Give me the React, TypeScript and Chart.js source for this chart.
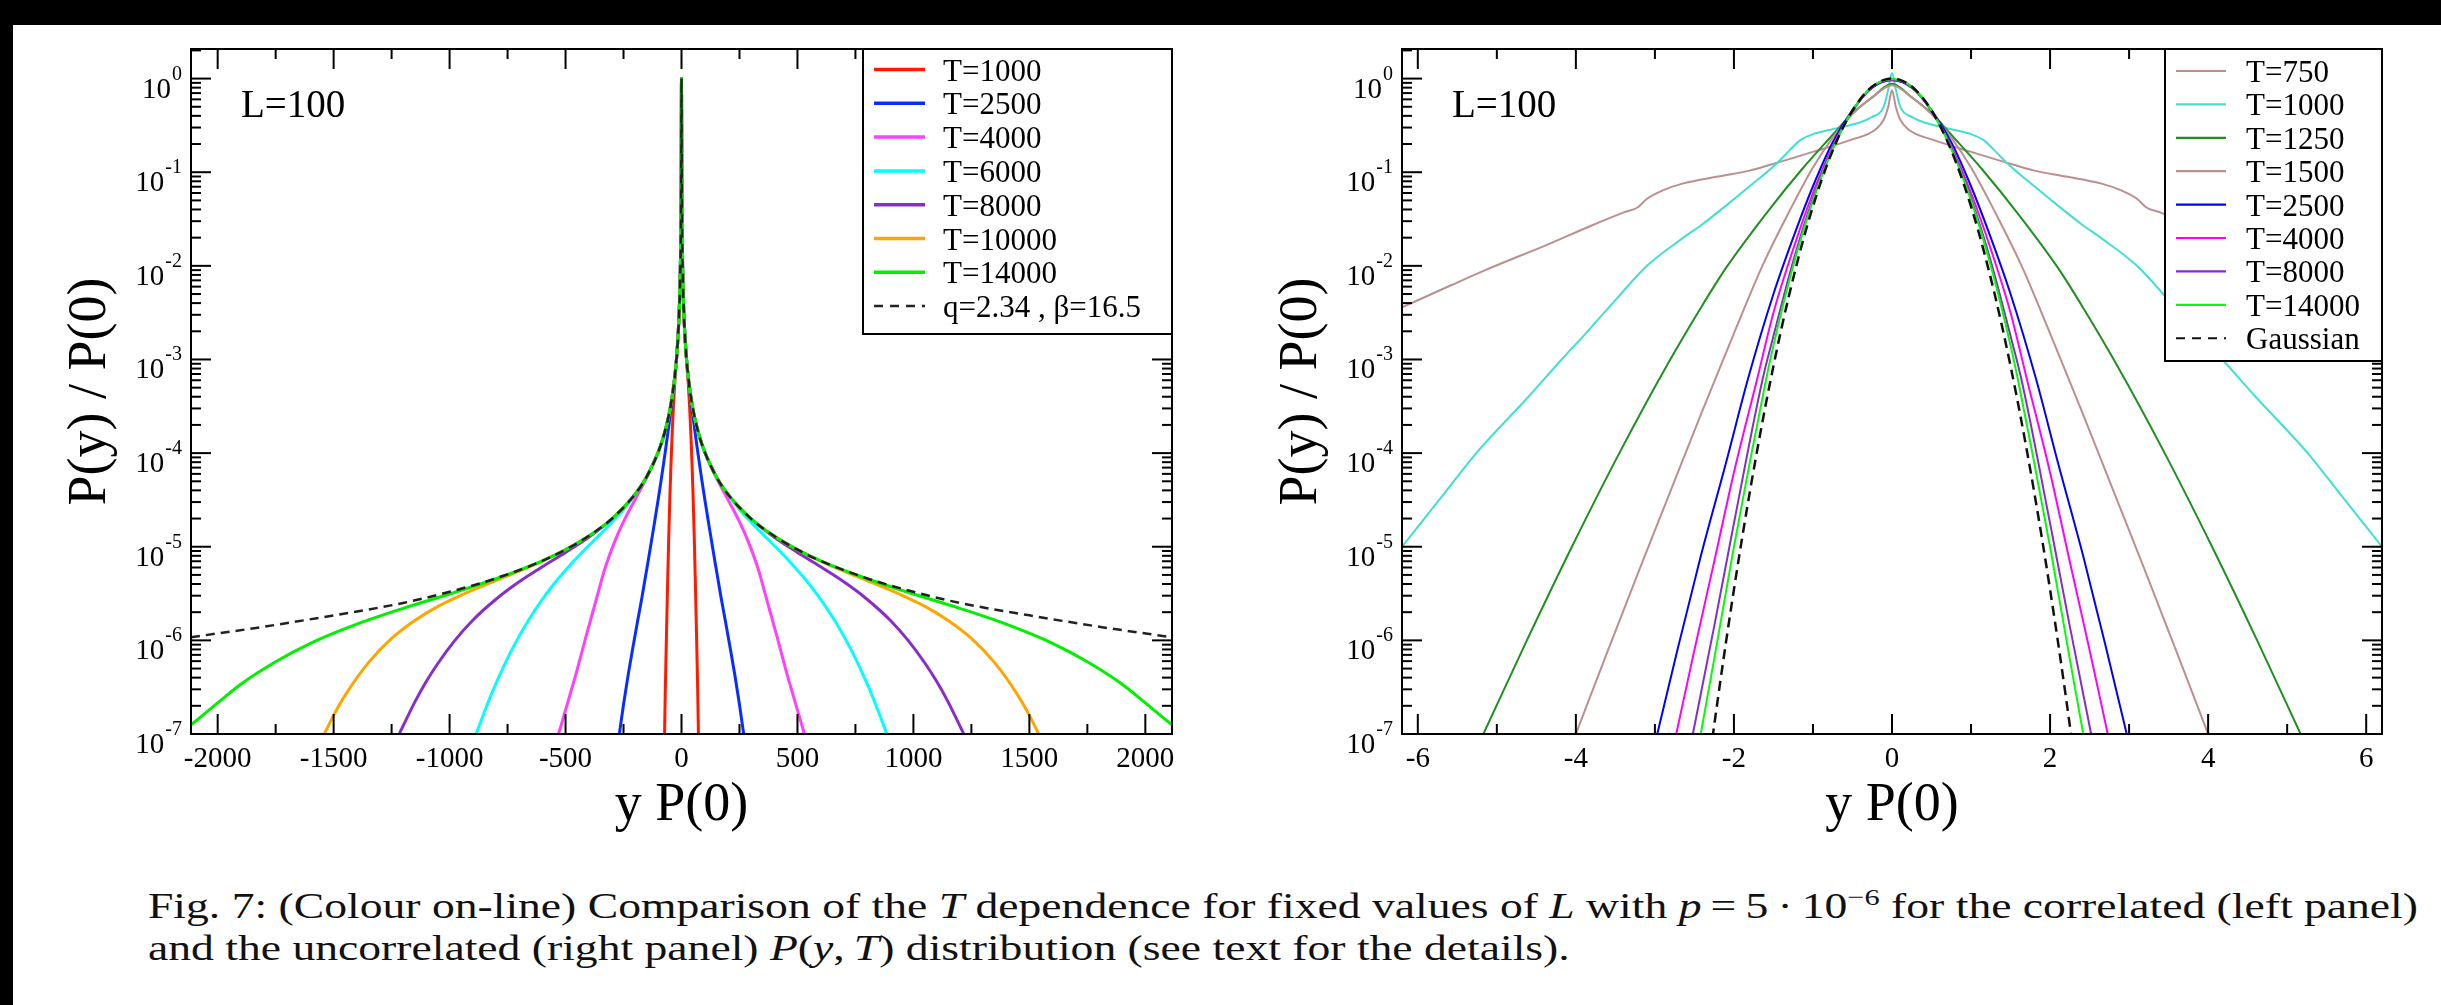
import React, { useEffect, useLayoutEffect, useRef, useState } from "react";
import { Chart, registerables } from "chart.js";
Chart.register(...registerables);

// ---------------- Left panel (correlated), half profiles for x >= 0 ----------------
const leftQX = [0, 1, 2, 3, 5, 7, 10, 15, 20, 30, 40, 50, 75, 100, 150, 200, 300, 400, 500, 600, 800, 1000, 1200, 1500, 1800, 2115];
const leftQY = [1, 0.096, 0.035, 0.0192, 8.97e-3, 5.43e-3, 3.19e-3, 1.74e-3, 1.13e-3, 6.19e-4, 4.03e-4, 2.88e-4, 1.58e-4, 1.03e-4, 5.6e-5, 3.64e-5, 1.99e-5, 1.3e-5, 9.3e-6, 7.06e-6, 4.6e-6, 3.3e-6, 2.51e-6, 1.85e-6, 1.4e-6, 1.08e-6];

const leftT1000X = [0, 1, 2, 5, 10, 15, 20, 25, 30, 35, 40, 45, 50, 55, 60, 65, 70, 73];
const leftT1000Y = [1, 0.096, 0.035, 8.97e-3, 3.19e-3, 1.74e-3, 1.13e-3, 7.76e-4, 5.15e-4, 3.1e-4, 1.68e-4, 8.1e-5, 3.48e-5, 1.26e-5, 3.9e-6, 1.1e-6, 2.77e-7, 1e-7];

const leftT2500X = [0, 1, 2, 5, 10, 20, 30, 40, 50, 60, 70, 85, 100, 120, 135, 150, 170, 190, 210, 230, 250, 268];
const leftT2500Y = [1, 0.096, 0.035, 8.97e-3, 3.19e-3, 1.13e-3, 6.19e-4, 3.76e-4, 2.4e-4, 1.56e-4, 1.03e-4, 5.71e-5, 3.25e-5, 1.6e-5, 9.5e-6, 5.73e-6, 2.93e-6, 1.57e-6, 8.3e-7, 4.28e-7, 2.07e-7, 1e-7];

const leftT4000X = [0, 1, 2, 5, 10, 20, 30, 50, 75, 100, 150, 200, 250, 290, 330, 370, 414, 450, 490, 530];
const leftT4000Y = [1, 0.096, 0.035, 8.97e-3, 3.19e-3, 1.13e-3, 6.19e-4, 2.88e-4, 1.58e-4, 1.03e-4, 5.47e-5, 3.2e-5, 1.85e-5, 1.1e-5, 5.85e-6, 2.59e-6, 1.05e-6, 4.85e-7, 2.19e-7, 1e-7];

const leftT6000X = [0, 1, 2, 5, 10, 20, 30, 50, 75, 100, 150, 200, 250, 300, 360, 420, 480, 540, 600, 660, 710, 760, 810, 850, 885];
const leftT6000Y = [1, 0.096, 0.035, 8.97e-3, 3.19e-3, 1.13e-3, 6.19e-4, 2.88e-4, 1.58e-4, 1.03e-4, 5.6e-5, 3.64e-5, 2.5e-5, 1.83e-5, 1.29e-5, 9.17e-6, 6.38e-6, 4.3e-6, 2.74e-6, 1.64e-6, 1e-6, 5.72e-7, 3.03e-7, 1.72e-7, 1e-7];

const leftT8000X = [0, 1, 2, 5, 10, 20, 30, 50, 75, 100, 150, 200, 300, 400, 500, 600, 700, 800, 900, 977, 1050, 1100, 1150, 1217];
const leftT8000Y = [1, 0.096, 0.035, 8.97e-3, 3.19e-3, 1.13e-3, 6.19e-4, 2.88e-4, 1.58e-4, 1.03e-4, 5.6e-5, 3.64e-5, 1.99e-5, 1.26e-5, 8.7e-6, 6.1e-6, 4.22e-6, 2.75e-6, 1.64e-6, 1e-6, 5.7e-7, 3.65e-7, 2.19e-7, 1e-7];

const leftT10000X = [0, 1, 2, 5, 10, 20, 30, 50, 75, 100, 150, 200, 300, 400, 500, 600, 700, 800, 944, 1050, 1150, 1250, 1350, 1450, 1500, 1540];
const leftT10000Y = [1, 0.096, 0.035, 8.97e-3, 3.19e-3, 1.13e-3, 6.19e-4, 2.88e-4, 1.58e-4, 1.03e-4, 5.6e-5, 3.64e-5, 1.99e-5, 1.3e-5, 9.3e-6, 7e-6, 5.48e-6, 4.35e-6, 3.09e-6, 2.31e-6, 1.63e-6, 1.05e-6, 5.78e-7, 2.6e-7, 1.58e-7, 1e-7];

const leftT14000X = [0, 1, 2, 5, 10, 20, 30, 50, 75, 100, 150, 200, 300, 400, 500, 600, 800, 1000, 1200, 1400, 1600, 1750, 1900, 2000, 2115];
const leftT14000Y = [1, 0.096, 0.035, 8.97e-3, 3.19e-3, 1.13e-3, 6.19e-4, 2.88e-4, 1.58e-4, 1.03e-4, 5.6e-5, 3.64e-5, 1.99e-5, 1.3e-5, 9.3e-6, 7.06e-6, 4.55e-6, 3.13e-6, 2.2e-6, 1.49e-6, 9.3e-7, 5.9e-7, 3.4e-7, 2.15e-7, 1.25e-7];

// ---------------- Right panel (uncorrelated), half profiles for x >= 0 ----------------
const rightGaussX = [0, 0.1, 0.2, 0.3, 0.4, 0.5, 0.6, 0.7, 0.8, 0.9, 1.0, 1.1, 1.2, 1.3, 1.4, 1.5, 1.6, 1.7, 1.8, 1.9, 2.0, 2.1, 2.2, 2.3];
const rightGaussY = [1, 0.969, 0.882, 0.754, 0.605, 0.456, 0.323, 0.2145, 0.1339, 0.0785, 0.0432, 0.02235, 0.01084, 4.94e-3, 2.12e-3, 8.51e-4, 3.22e-4, 1.14e-4, 3.8e-5, 1.19e-5, 3.49e-6, 9.64e-7, 2.49e-7, 6.05e-8];

const rightT750X = [0, 0.05, 0.1, 0.2, 0.53, 0.95, 1.54, 1.8, 2.2, 2.64, 2.9, 3.1, 3.22, 3.4, 3.8, 4.32, 5.16, 5.58, 6.2];
const rightT750Y = [0.75, 0.49, 0.37, 0.29, 0.22, 0.17, 0.12, 0.104, 0.09, 0.076, 0.064, 0.052, 0.042, 0.037, 0.027, 0.0174, 8.9e-3, 6.2e-3, 3.6e-3];

const rightT1000X = [0, 0.05, 0.11, 0.25, 0.41, 0.74, 1.0, 1.16, 1.3, 1.46, 1.79, 2.1, 2.42, 2.64, 3.1, 3.5, 3.9, 4.18, 4.6, 5.26, 5.7, 6.2];
const rightT1000Y = [1.15, 0.75, 0.49, 0.39, 0.34, 0.29, 0.255, 0.22, 0.17, 0.124, 0.072, 0.044, 0.027, 0.02, 0.01, 4.3e-3, 1.8e-3, 1e-3, 4e-4, 1e-4, 3.4e-5, 1e-5];

const rightT1250X = [0, 0.25, 0.5, 0.75, 1.15, 1.6, 2.1, 2.42, 2.82, 3.45, 4.05, 4.62, 5.17];
const rightT1250Y = [0.88, 0.63, 0.427, 0.251, 0.105, 0.0355, 9.5e-3, 3.55e-3, 9.5e-4, 1e-4, 1e-5, 1e-6, 1e-7];

const rightT1500X = [0, 0.25, 0.5, 0.75, 1.0, 1.3, 1.64, 2.0, 2.4, 2.8, 3.2, 3.6, 4.0];
const rightT1500Y = [0.851, 0.631, 0.417, 0.234, 0.112, 0.038, 0.01, 1.9e-3, 2.82e-4, 3.98e-5, 5.6e-6, 7.6e-7, 1e-7];

const rightT2500X = [0, 0.25, 0.5, 0.75, 1.0, 1.25, 1.5, 1.82, 2.1, 2.42, 2.7, 2.97];
const rightT2500Y = [0.96, 0.8, 0.46, 0.209, 0.0708, 0.02, 5e-3, 6.3e-4, 7.9e-5, 7.9e-6, 8.9e-7, 1e-7];

const rightT4000X = [0, 0.25, 0.5, 0.75, 1.0, 1.25, 1.5, 1.71, 2.0, 2.25, 2.5, 2.73];
const rightT4000Y = [0.97, 0.81, 0.45, 0.19, 0.06, 0.0151, 3.16e-3, 6e-4, 6.2e-5, 6.9e-6, 7.9e-7, 1e-7];

const rightT8000X = [0, 0.25, 0.5, 0.75, 1.0, 1.25, 1.5, 1.64, 2.0, 2.25, 2.52];
const rightT8000Y = [0.98, 0.82, 0.45, 0.18, 0.0525, 0.0112, 1.78e-3, 6e-4, 1.78e-5, 1.41e-6, 1e-7];

const rightT14000X = [0, 0.25, 0.5, 0.75, 1.0, 1.25, 1.5, 1.59, 1.8, 2.0, 2.25, 2.42];
const rightT14000Y = [0.99, 0.82, 0.455, 0.178, 0.05, 0.01, 1.41e-3, 6.3e-4, 7.9e-5, 1e-5, 6.3e-7, 1e-7];

// ---------------- Axes / ticks ----------------
const leftXMajor = [-2000, -1500, -1000, -500, 0, 500, 1000, 1500, 2000];
const leftXMinor = [-1750, -1250, -750, -250, 250, 750, 1250, 1750];
const rightXMajor = [-6, -4, -2, 0, 2, 4, 6];
const rightXMinor = [-5, -3, -1, 1, 3, 5];
const yDecades = [-7, -6, -5, -4, -3, -2, -1, 0];
const yMinorMultipliers = [2, 3, 4, 5, 6, 7, 8, 9];

const leftLabels = ["T=1000", "T=2500", "T=4000", "T=6000", "T=8000", "T=10000", "T=14000", "q=2.34 , \u03B2=16.5"];
const rightLabels = ["T=750", "T=1000", "T=1250", "T=1500", "T=2500", "T=4000", "T=8000", "T=14000", "Gaussian"];

const SERIF = '"Liberation Serif", "Times New Roman", serif';
const PURPLE = "rgb(135, 45, 200)";

type Pt = { x: number; y: number };
function mirror(xs: number[], ys: number[]): Pt[] {
  const pts: Pt[] = [];
  for (let i = xs.length - 1; i > 0; i--) pts.push({ x: -xs[i], y: ys[i] });
  for (let i = 0; i < xs.length; i++) pts.push({ x: xs[i], y: ys[i] });
  return pts;
}

type Entry = { label: string; color: string; width: number; dash: number[] };

interface PanelCfg {
  xMajor: number[];
  xMinor: number[];
  entries: Entry[];
  legendWidth: number;
  legendHeight: number;
  legendFirst: number;
  legendStep: number;
  legendLineX0: number;
  legendLineX1: number;
  legendTextX: number;
}

function decorPlugin(cfg: PanelCfg) {
  return {
    id: "decor",
    afterDraw(chart: any) {
      const { ctx, chartArea: a, scales } = chart;
      const xs = scales.x;
      const ys = scales.y;
      ctx.save();
      ctx.strokeStyle = "#000";
      ctx.fillStyle = "#000";
      ctx.lineWidth = 2;
      ctx.setLineDash([]);
      const tick = (x0: number, y0: number, x1: number, y1: number) => {
        ctx.beginPath();
        ctx.moveTo(x0, y0);
        ctx.lineTo(x1, y1);
        ctx.stroke();
      };
      cfg.xMajor.forEach((v) => {
        const px = xs.getPixelForValue(v);
        tick(px, a.bottom, px, a.bottom - 20);
        tick(px, a.top, px, a.top + 20);
      });
      cfg.xMinor.forEach((v) => {
        const px = xs.getPixelForValue(v);
        tick(px, a.bottom, px, a.bottom - 10);
        tick(px, a.top, px, a.top + 10);
      });
      yDecades.forEach((e) => {
        const py = ys.getPixelForValue(Math.pow(10, e));
        tick(a.left, py, a.left + 20, py);
        tick(a.right, py, a.right - 20, py);
        yMinorMultipliers.forEach((m) => {
          const v = m * Math.pow(10, e);
          if (v > ys.max) return;
          const pm = ys.getPixelForValue(v);
          tick(a.left, pm, a.left + 10, pm);
          tick(a.right, pm, a.right - 10, pm);
        });
      });
      // x tick labels
      ctx.font = `29px ${SERIF}`;
      ctx.textAlign = "center";
      ctx.textBaseline = "alphabetic";
      cfg.xMajor.forEach((v) => {
        const px = xs.getPixelForValue(v);
        ctx.fillText(String(v), px, a.bottom + 33);
      });
      // y tick labels 10^e
      yDecades.forEach((e) => {
        const py = ys.getPixelForValue(Math.pow(10, e));
        const right = a.left - 9;
        ctx.textAlign = "right";
        ctx.font = `20px ${SERIF}`;
        const ex = String(e);
        const w = ctx.measureText(ex).width;
        ctx.fillText(ex, right, py + 1);
        ctx.font = `29px ${SERIF}`;
        ctx.fillText("10", right - w - 1, py + 19);
      });
      // axis titles
      ctx.font = `54px ${SERIF}`;
      ctx.textAlign = "center";
      ctx.fillText("y P(0)", (a.left + a.right) / 2, a.bottom + 86);
      ctx.save();
      ctx.translate(a.left - 100, (a.top + a.bottom) / 2);
      ctx.rotate(-Math.PI / 2);
      ctx.textBaseline = "middle";
      ctx.fillText("P(y) / P(0)", 0, 0);
      ctx.restore();
      // L=100
      ctx.font = `39px ${SERIF}`;
      ctx.textAlign = "left";
      ctx.textBaseline = "alphabetic";
      ctx.fillText("L=100", a.left + 50, a.top + 68);
      // legend box
      const bx = a.right - cfg.legendWidth;
      const by = a.top;
      ctx.fillStyle = "#fff";
      ctx.fillRect(bx, by, cfg.legendWidth, cfg.legendHeight);
      ctx.strokeStyle = "#000";
      ctx.lineWidth = 2;
      ctx.strokeRect(bx, by, cfg.legendWidth, cfg.legendHeight);
      ctx.font = `31px ${SERIF}`;
      cfg.entries.forEach((en, i) => {
        const ry = by + cfg.legendFirst + i * cfg.legendStep;
        ctx.strokeStyle = en.color;
        ctx.lineWidth = en.width;
        ctx.setLineDash(en.dash);
        ctx.beginPath();
        ctx.moveTo(bx + cfg.legendLineX0, ry);
        ctx.lineTo(bx + cfg.legendLineX1, ry);
        ctx.stroke();
        ctx.setLineDash([]);
        ctx.fillStyle = "#000";
        ctx.fillText(en.label, bx + cfg.legendTextX, ry + 11);
      });
      // frame
      ctx.strokeStyle = "#000";
      ctx.lineWidth = 2;
      ctx.strokeRect(a.left, a.top, a.right - a.left, a.bottom - a.top);
      ctx.restore();
    },
  };
}

function ds(label: string, pts: Pt[], color: string, width: number, dash: number[], order: number) {
  return {
    label,
    data: pts,
    borderColor: color,
    backgroundColor: color,
    borderWidth: width,
    borderDash: dash,
    pointRadius: 0,
    fill: false,
    cubicInterpolationMode: "monotone" as const,
    order,
  };
}

function leftConfig(): any {
  const colors = ["#ff1a00", "#0a2dff", "#ff40ff", "#00ffff", PURPLE, "#ffa500", "#00f000"];
  const sets: [number[], number[]][] = [
    [leftT1000X, leftT1000Y],
    [leftT2500X, leftT2500Y],
    [leftT4000X, leftT4000Y],
    [leftT6000X, leftT6000Y],
    [leftT8000X, leftT8000Y],
    [leftT10000X, leftT10000Y],
    [leftT14000X, leftT14000Y],
  ];
  const datasets: any[] = sets.map((s, i) => ds(leftLabels[i], mirror(s[0], s[1]), colors[i], 3, [], 10 - i));
  datasets.push(ds(leftLabels[7], mirror(leftQX, leftQY), "#222", 2.5, [9, 6], 0));
  const entries: Entry[] = leftLabels.map((l, i) => ({
    label: l,
    color: i < 7 ? colors[i] : "#222",
    width: i < 7 ? 3.5 : 2.5,
    dash: i < 7 ? [] : [9, 7],
  }));
  return {
    type: "line",
    data: { datasets },
    options: {
      responsive: false,
      maintainAspectRatio: false,
      animation: false,
      devicePixelRatio: 1,
      layout: { padding: { left: 191, top: 49, right: 58, bottom: 146 } },
      plugins: { legend: { display: false }, tooltip: { enabled: false } },
      scales: {
        x: { type: "linear", min: -2115, max: 2115, display: false },
        y: { type: "logarithmic", min: 1e-7, max: 2.07, display: false },
      },
    },
    plugins: [
      decorPlugin({
        xMajor: leftXMajor,
        xMinor: leftXMinor,
        entries,
        legendWidth: 309,
        legendHeight: 285,
        legendFirst: 20.5,
        legendStep: 33.8,
        legendLineX0: 11,
        legendLineX1: 62,
        legendTextX: 80,
      }),
    ],
  };
}

function rightConfig(): any {
  const colors = ["#bc8f8f", "#40e0d0", "#1f8f1f", "#bc8f8f", "#0000ff", "#ff00ff", PURPLE, "#00ff00"];
  const sets: [number[], number[]][] = [
    [rightT750X, rightT750Y],
    [rightT1000X, rightT1000Y],
    [rightT1250X, rightT1250Y],
    [rightT1500X, rightT1500Y],
    [rightT2500X, rightT2500Y],
    [rightT4000X, rightT4000Y],
    [rightT8000X, rightT8000Y],
    [rightT14000X, rightT14000Y],
  ];
  const datasets: any[] = sets.map((s, i) => ds(rightLabels[i], mirror(s[0], s[1]), colors[i], 2, [], 10 - i));
  datasets.push(ds(rightLabels[8], mirror(rightGaussX, rightGaussY), "#111", 2.5, [10, 6], 0));
  const entries: Entry[] = rightLabels.map((l, i) => ({
    label: l,
    color: i < 8 ? colors[i] : "#111",
    width: i < 8 ? 2.2 : 2,
    dash: i < 8 ? [] : [9, 7],
  }));
  return {
    type: "line",
    data: { datasets },
    options: {
      responsive: false,
      maintainAspectRatio: false,
      animation: false,
      devicePixelRatio: 1,
      layout: { padding: { left: 172, top: 49, right: 59, bottom: 146 } },
      plugins: { legend: { display: false }, tooltip: { enabled: false } },
      scales: {
        x: { type: "linear", min: -6.2, max: 6.2, display: false },
        y: { type: "logarithmic", min: 1e-7, max: 2.07, display: false },
      },
    },
    plugins: [
      decorPlugin({
        xMajor: rightXMajor,
        xMinor: rightXMinor,
        entries,
        legendWidth: 217,
        legendHeight: 312,
        legendFirst: 22,
        legendStep: 33.4,
        legendLineX0: 11,
        legendLineX1: 61,
        legendTextX: 81,
      }),
    ],
  };
}

function Panel({ left, width, height, make }: { left: number; width: number; height: number; make: () => any }) {
  const ref = useRef<HTMLCanvasElement>(null);
  useEffect(() => {
    if (!ref.current) return;
    const chart = new Chart(ref.current, make());
    return () => chart.destroy();
  }, []);
  return (
    <canvas
      ref={ref}
      width={width}
      height={height}
      style={{ position: "absolute", left, top: 0, width, height, display: "block" }}
    />
  );
}

function Caption() {
  const r1 = useRef<HTMLSpanElement>(null);
  const [s, setS] = useState(1);
  useLayoutEffect(() => {
    if (r1.current) {
      const w = r1.current.getBoundingClientRect().width;
      if (w > 0) setS(2270 / w);
    }
  }, []);
  const lineStyle: React.CSSProperties = {
    position: "absolute",
    left: 148,
    whiteSpace: "nowrap",
    fontFamily: SERIF,
    fontSize: 36,
    lineHeight: "42px",
    color: "#111",
    transformOrigin: "0 0",
    transform: `scaleX(${s})`,
  };
  return (
    <>
      <div style={{ ...lineStyle, top: 885 }}>
        <span ref={r1}>
          Fig. 7: (Colour on-line) Comparison of the <i>T</i> dependence for fixed values of <i>L</i> with{" "}
          <i>p</i>&thinsp;=&thinsp;5&thinsp;·&thinsp;10<sup style={{ fontSize: 24, lineHeight: 0 }}>−6</sup> for the correlated
          (left panel)
        </span>
      </div>
      <div style={{ ...lineStyle, top: 927 }}>
        <span>
          and the uncorrelated (right panel) <i>P</i>(<i>y</i>,&thinsp;<i>T</i>) distribution (see text for the details).
        </span>
      </div>
    </>
  );
}

export default function App() {
  return (
    <div
      style={{
        position: "fixed",
        left: 0,
        top: 0,
        width: 2441,
        height: 1005,
        background: "#fff",
        overflow: "hidden",
      }}
    >
      <div style={{ position: "absolute", left: 0, top: 0, width: 2441, height: 25, background: "#000" }} />
      <div style={{ position: "absolute", left: 0, top: 0, width: 13, height: 1005, background: "#000" }} />
      <Panel left={0} width={1230} height={880} make={leftConfig} />
      <Panel left={1230} width={1211} height={880} make={rightConfig} />
      <Caption />
    </div>
  );
}
